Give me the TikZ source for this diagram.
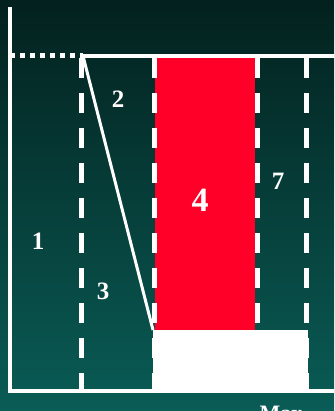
\documentclass[tikz,border=0pt]{standalone}
\usepackage{fontspec}
\setmainfont{Liberation Serif}
\definecolor{fondoarriba}{RGB}{3,33,30}
\definecolor{fondoabajo}{RGB}{10,92,86}
\definecolor{rojo}{RGB}{255,0,40}

\begin{document}
\begin{tikzpicture}[x=1pt, y=-1pt,
    eje/.style={white, line width=4pt},
    guia/.style={white, line width=5pt, dash pattern=on 20pt off 15pt},
    punteada/.style={white, line width=5pt, dash pattern=on 5pt off 5pt},
    etiqueta/.style={text=white, font=\bfseries\fontsize{25}{25}\selectfont}
]
% Fondo
\useasboundingbox (0,0) rectangle (334,411);
\clip (0,0) rectangle (334,411);
\shade[top color=fondoarriba, bottom color=fondoabajo] (0,0) rectangle (334,411);

% Puntos
\coordinate (origen) at (10,391);
\coordinate (cima)   at (10,7);
\coordinate (izq)    at (10,56);
\coordinate (quiebre) at (83,56);
\coordinate (der)    at (334,56);
\coordinate (fin)    at (334,391);
\coordinate (pie)    at (153,330);

% Bloques
\fill[rojo] (155,57) rectangle (255,330);
\fill[white] (153,330) rectangle (308,389);

% Guias
\draw[guia] (81,58) -- (81,391);
\draw[guia] (154,58) -- (154,398);
\draw[guia] (257,58) -- (257,391);
\draw[guia] (306,58) -- (306,391);

% Ejes
\draw[eje] (cima) -- (origen) -- (fin);
\draw[punteada] (izq) -- (quiebre);
\draw[eje] (quiebre) -- (der);
\draw[white, line width=3pt] (quiebre) -- (pie);

% Etiquetas
\node[etiqueta] (z1) at (38,241) {1};
\node[etiqueta] (z2) at (118,99) {2};
\node[etiqueta] (z3) at (103,291) {3};
\node[etiqueta, font=\bfseries\fontsize{34}{34}\selectfont] (z4) at (200,200) {4};
\node[etiqueta] (z7) at (278,181) {7};
\node[etiqueta, font=\bfseries\fontsize{22}{22}\selectfont, anchor=north] (max) at (281,403) {Max};
\end{tikzpicture}
\end{document}
